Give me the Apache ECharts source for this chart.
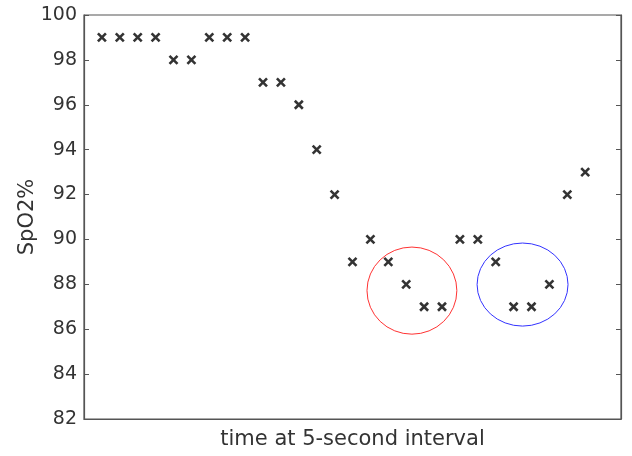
<!DOCTYPE html>
<html>
<head>
<meta charset="utf-8">
<script src="https://cdn.jsdelivr.net/npm/echarts@6/dist/echarts.min.js"></script>
<style>
  html, body { margin: 0; padding: 0; background: #fff; }
  #main { width: 632px; height: 456px; }
</style>
</head>
<body>
<div id="main"></div>
<script>
// sample index (5-second steps) and SpO2 readings
var timeIdx = [1, 2, 3, 4, 5, 6, 7, 8, 9, 10, 11, 12, 13, 14, 15, 16, 17, 18, 19, 20, 21, 22, 23, 24, 25, 26, 27, 28];
var spo2 = [99, 99, 99, 99, 98, 98, 99, 99, 99, 97, 97, 96, 94, 92, 89, 90, 89, 88, 87, 87, 90, 90, 89, 87, 87, 88, 92, 93];
var yTicks = [82, 84, 86, 88, 90, 92, 94, 96, 98, 100];

// highlighted dips: centre x, centre y, radius x, radius y (data units)
var redRing = [18.32, 87.72, 2.51, 1.94];
var blueRing = [24.5, 87.99, 2.54, 1.85];

var chart = echarts.init(document.getElementById('main'), null, { renderer: 'canvas' });

var points = [];
for (var i = 0; i < timeIdx.length; i++) {
  points.push([timeIdx[i], spo2[i]]);
}

function ringItem(color) {
  return function (params, api) {
    var c = api.coord([api.value(0), api.value(1)]);
    var s = api.size([api.value(2), api.value(3)]);
    var rx = s[0], ry = s[1];
    var d = 'M' + (c[0] - rx) + ' ' + c[1] +
      ' A' + rx + ' ' + ry + ' 0 1 0 ' + (c[0] + rx) + ' ' + c[1] +
      ' A' + rx + ' ' + ry + ' 0 1 0 ' + (c[0] - rx) + ' ' + c[1] + ' Z';
    return {
      type: 'path',
      shape: { pathData: d },
      style: { fill: 'none', stroke: color, lineWidth: 1 }
    };
  };
}

var nameFont = { color: '#333', fontSize: 21, fontFamily: 'DejaVu Sans' };
var tickFont = { color: '#333', fontSize: 19, fontFamily: 'DejaVu Sans' };

var option = {
  animation: false,
  backgroundColor: '#fff',
  grid: {
    left: 84, top: 15, right: 11, bottom: 37,
    show: true, borderColor: '#555', borderWidth: 1.2
  },
  xAxis: {
    type: 'value',
    min: 0, max: 30,
    name: 'time at 5-second interval',
    nameLocation: 'middle',
    nameGap: 10,
    nameTextStyle: nameFont,
    axisLine: { show: true, lineStyle: { color: '#555', width: 1.2 } },
    axisTick: { show: false },
    axisLabel: { show: false },
    splitLine: { show: false }
  },
  yAxis: [{
    type: 'value',
    min: 82, max: 100, interval: 2,
    name: 'SpO2%',
    nameLocation: 'middle',
    nameRotate: 90,
    nameGap: 46,
    nameMoveOverlap: false,
    nameTextStyle: nameFont,
    axisLine: { show: true, lineStyle: { color: '#555', width: 1.2 } },
    axisTick: { show: true, inside: true, length: 5, lineStyle: { color: '#555' } },
    axisLabel: Object.assign({ margin: 7 }, tickFont),
    splitLine: { show: false }
  }, {
    type: 'value',
    position: 'right',
    min: 82, max: 100, interval: 2,
    axisLine: { show: true, lineStyle: { color: '#555', width: 1.2 } },
    axisTick: { show: true, inside: true, length: 5, lineStyle: { color: '#555' } },
    axisLabel: { show: false },
    splitLine: { show: false }
  }],
  series: [{
    type: 'scatter',
    data: points,
    symbol: 'path://M0,0L10,10M10,0L0,10',
    symbolSize: 8,
    itemStyle: { color: 'none', borderColor: '#000', borderWidth: 2.6 },
    z: 3
  }, {
    type: 'custom',
    renderItem: ringItem('#ff3333'),
    data: [redRing],
    silent: true,
    z: 2
  }, {
    type: 'custom',
    renderItem: ringItem('#3333ff'),
    data: [blueRing],
    silent: true,
    z: 2
  }]
};

chart.setOption(option);
</script>
</body>
</html>
